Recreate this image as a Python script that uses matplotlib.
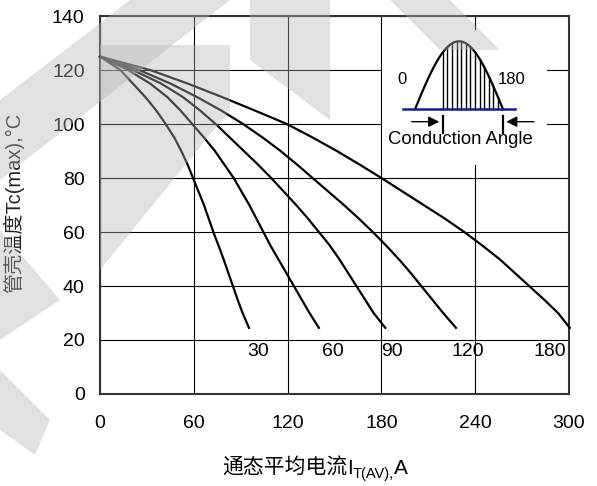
import matplotlib.pyplot as plt
import numpy as np
from matplotlib.patches import Polygon

plt.rcParams['font.family'] = ['Liberation Sans', 'Noto Sans CJK SC', 'DejaVu Sans']

# conduction angles (deg) and the curves
angles = ['30', '60', '90', '120', '180']
temp_levels = [125, 120, 115, 110, 105, 100, 95, 90, 85, 80, 75, 70,
               65, 60, 55, 50, 45, 40, 35, 30, 24.5]
current_30 = [0, 13, 21, 29, 36, 42, 47.5, 52, 56, 59.5, 63, 66.5,
              69.5, 72.5, 75.8, 79, 82, 85, 88, 91.2, 95.3]
current_60 = [0, 18, 32, 43, 51.5, 59, 66.5, 73.5, 79.5, 85.5, 90.5, 95.5,
              100, 104.5, 109, 114, 119, 124, 129, 134, 140]
current_90 = [0, 21, 39, 53, 64, 74, 83, 92, 101, 109.5, 117.5, 125.5,
              133, 140, 147, 153, 158.5, 164, 169.5, 175, 182.5]
current_120 = [0, 25, 45, 62, 77.5, 91.5, 104, 115.5, 126, 136, 146, 156,
               165.5, 174.5, 183, 191, 198.5, 205.5, 212.5, 219.5, 227.7]
current_180 = [0, 32, 56, 78, 99, 119.5, 136, 151.5, 166, 180, 193.5, 207,
               220.5, 233, 244.5, 255.5, 265, 274.5, 284, 293, 300.5]

x_ticks = [0, 60, 120, 180, 240, 300]
y_ticks = [0, 20, 40, 60, 80, 100, 120, 140]

fig = plt.figure(figsize=(5.97, 4.86), dpi=100)
ax = fig.add_axes([100/597, 1-394/486, 469/597, 378/486])

curves = [current_30, current_60, current_90, current_120, current_180]
for cur in curves:
    ax.plot(cur, temp_levels, color='black', lw=1.6, zorder=3,
            solid_joinstyle='round', clip_on=False)

label_x = [101, 149, 187, 235, 288]
for lab, lx in zip(angles, label_x):
    ax.text(lx, 15.7, lab, fontsize=14, ha='center', va='center', zorder=4)

ax.set_xlim(0, 300)
ax.set_ylim(0, 140)
ax.set_xticks(x_ticks)
ax.set_yticks(y_ticks)
ax.grid(True, color='black', lw=0.8)
ax.set_axisbelow(True)
ax.tick_params(length=0, labelsize=14)
ax.tick_params(axis='x', pad=15)
ax.tick_params(axis='y', pad=11)
for s in ax.spines.values():
    s.set_color('#333333')
    s.set_linewidth(1.5)

fig.text(14/597, 1-203/486, '管壳温度Tc(max),°C', rotation=90, fontsize=14.5,
         ha='center', va='center', color='#222222')

# x label: 通态平均电流 I_T(AV), A  built from pieces so CJK and subscript both work
renderer = fig.canvas.get_renderer()
xpos = 222
for txt, size, drop in [('通态平均电流', 15, 0), ('I', 15, 0), ('T(AV),', 10.5, 4), ('A', 15, 0)]:
    t = fig.text(xpos/597, (486-474-drop)/486, txt, fontsize=size, va='baseline')
    xpos = t.get_window_extent(renderer).x1

# inset sketch of the conduction angle, drawn in pixel units
ins = fig.add_axes([382/597, 1-165/486, 165/597, 135/486], zorder=5)
ins.set_xlim(382, 547)
ins.set_ylim(165, 30)
ins.axis('off')
ins.add_patch(plt.Rectangle((382, 30), 165, 135, color='white', zorder=0))
base = 109.3
xs = np.linspace(415, 503, 60)
ins.plot(xs, base - 68*np.sin(np.pi*(xs-415)/88), color='black', lw=1.6)
for hx in np.arange(442.7, 503, 4.6):
    ins.plot([hx, hx], [base, base - 68*np.sin(np.pi*(hx-415)/88)], color='black', lw=1)
ins.plot([403, 515], [base, base], color='#1a1a80', lw=1.8)
for bx in (442.7, 502.7):
    ins.plot([bx, bx], [116, 132.7], color='black', lw=1.6)
ins.annotate('', xy=(442, 121.7), xytext=(409, 121.7),
             arrowprops=dict(arrowstyle='-|>', color='black', lw=1, mutation_scale=16))
ins.annotate('', xy=(503.5, 121.7), xytext=(536.7, 121.7),
             arrowprops=dict(arrowstyle='-|>', color='black', lw=1, mutation_scale=16))
ins.text(401.7, 80, '0', fontsize=12, ha='center', va='center')
ins.text(511.7, 80, '180', fontsize=12, ha='center', va='center')
ins.text(460.7, 139.5, 'Conduction Angle', fontsize=13.3, ha='center', va='center')

# faint watermark over everything
wm = fig.add_axes([0, 0, 1, 1], zorder=10)
wm.set_xlim(0, 597)
wm.set_ylim(486, 0)
wm.axis('off')
wm_shapes = [
    [(130, 0), (230, 0), (0, 180), (0, 100)],
    [(100, 45), (230, 45), (230, 110), (100, 270)],
    [(250, 0), (330, 0), (330, 120), (250, 60)],
    [(390, 0), (450, 0), (500, 50), (440, 50)],
    [(0, 230), (60, 300), (0, 340)],
    [(0, 370), (50, 420), (35, 455), (0, 430)],
]
for pts in wm_shapes:
    wm.add_patch(Polygon(pts, closed=True, color='#b4b4b4', alpha=0.4, lw=0))

fig.savefig('out.png', dpi=100)
